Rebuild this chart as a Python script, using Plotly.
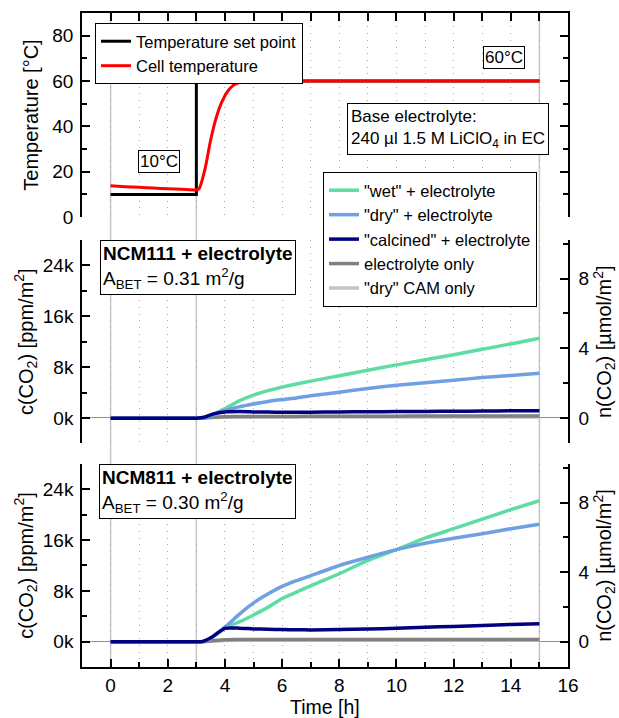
import plotly.graph_objects as go

# ---------------- data ----------------
# Temperature panel
t_set = [0, 3, 3, 15]
T_set = [10, 10, 60, 60]
t_cell = [0, 0.5, 1, 1.5, 2, 2.5, 3, 3.1, 3.3, 3.5, 3.7, 3.9, 4.1, 4.3, 4.5, 4.8, 5, 15]
T_cell = [13.8, 13.4, 13.1, 12.8, 12.5, 12.3, 12.0, 12.6, 21, 34, 44, 51, 55.5, 58.2, 59.3, 60, 60, 60]

# NCM111 panel, c(CO2) in ppm/m2
t111 = [0, 1, 2, 3, 3.3, 3.6, 4, 4.5, 5, 5.5, 6, 6.5, 7, 8, 9, 10, 11, 12, 13, 14, 15]
wet111 = [-50, -50, -40, -30, 0, 600, 1500, 2700, 3600, 4300, 4850, 5350, 5800, 6650, 7500, 8350, 9150, 9950, 10800, 11650, 12550]
dry111 = [-50, -50, -40, -30, 0, 550, 1200, 1750, 2200, 2600, 2900, 3150, 3500, 4050, 4650, 5150, 5550, 5950, 6350, 6700, 7050]
cal111 = [-50, -50, -40, -30, 150, 650, 950, 1000, 950, 920, 900, 900, 910, 950, 980, 1000, 1030, 1060, 1090, 1120, 1150]
ele111 = [-30, -30, -30, -20, 0, 120, 200, 220, 230, 240, 250, 250, 260, 270, 280, 290, 300, 300, 300, 300, 300]
cam111 = [-30, -30, -30, -20, 0, 80, 120, 130, 130, 140, 140, 150, 150, 150, 150, 150, 150, 150, 150, 150, 150]

# NCM811 panel, c(CO2) in ppm/m2
t811 = [0, 1, 2, 3, 3.2, 3.5, 4, 4.5, 5, 5.5, 6, 6.5, 7, 8, 9, 10, 11, 12, 13, 14, 15]
wet811 = [-30, -30, -30, -20, 0, 500, 2200, 3100, 4200, 5400, 6800, 7800, 8800, 10700, 12800, 14500, 16300, 17800, 19300, 20800, 22200]
dry811 = [-30, -30, -30, -20, 0, 500, 2300, 4300, 6100, 7500, 8700, 9600, 10400, 12000, 13300, 14500, 15500, 16300, 17000, 17800, 18500]
cal811 = [-30, -30, -30, -20, 0, 600, 2100, 2120, 2000, 1950, 1900, 1880, 1850, 1900, 2000, 2100, 2250, 2400, 2550, 2700, 2800]
ele811 = [-20, -20, -20, -10, 0, 100, 300, 320, 320, 320, 320, 320, 320, 320, 320, 320, 320, 320, 320, 320, 320]
cam811 = [-20, -20, -20, -10, 0, 60, 180, 200, 200, 200, 200, 200, 200, 200, 200, 200, 200, 200, 200, 200, 200]

series_names = ['"wet" + electrolyte', '"dry" + electrolyte', '"calcined" + electrolyte',
                'electrolyte only', '"dry" CAM only']
series_colors = ['#5EDCA3', '#6EA0E2', '#000080', '#808080', '#C4C4C4']

ppm_per_umol = 2740.0  # conversion between left and right axes

FONT = "Liberation Sans, Arial, sans-serif"

fig = go.Figure()

# temperature traces
fig.add_trace(go.Scatter(x=t_set, y=T_set, mode='lines', name='Temperature set point',
                         line=dict(color='black', width=3), xaxis='x3', yaxis='y3', legend='legend'))
fig.add_trace(go.Scatter(x=t_cell, y=T_cell, mode='lines', name='Cell temperature',
                         line=dict(color='#FF0000', width=3, shape='spline', smoothing=0.6),
                         xaxis='x3', yaxis='y3', legend='legend'))

d111 = [wet111, dry111, cal111, ele111, cam111]
order = [4, 3, 0, 1, 2]
for i in order:
    fig.add_trace(go.Scatter(x=t111, y=d111[i], mode='lines', name=series_names[i],
                             line=dict(color=series_colors[i], width=3.5, shape='spline', smoothing=0.5),
                             xaxis='x2', yaxis='y2', legend='legend2', legendrank=i + 1))
d811 = [wet811, dry811, cal811, ele811, cam811]
for i in order:
    fig.add_trace(go.Scatter(x=t811, y=d811[i], mode='lines', name=series_names[i],
                             line=dict(color=series_colors[i], width=3.5, shape='spline', smoothing=0.5),
                             xaxis='x', yaxis='y', showlegend=False))

# helper empty traces so the right axes render
fig.add_trace(go.Scatter(x=[None], y=[None], xaxis='x2', yaxis='y5', showlegend=False))
fig.add_trace(go.Scatter(x=[None], y=[None], xaxis='x', yaxis='y4', showlegend=False))

grid_col = '#A8A8A8'
grid_dash = '1px,5.7px'
tickfont = dict(family=FONT, size=19, color='black')
titlefont = dict(family=FONT, size=20, color='black')

common_x = dict(range=[-1, 16], linecolor='black', linewidth=1.5, tickcolor='black', automargin=False,
                gridcolor=grid_col, griddash=grid_dash, gridwidth=1, zeroline=False)

yl_common = dict(range=[-4000, 28000], dtick=8000, tick0=0, tickformat='~s', labelalias={'0': '0k'},
                 showline=True, linecolor='black', linewidth=1.5, ticks='inside', ticklen=8, tickwidth=1.5,
                 tickcolor='black', showgrid=False, zeroline=True, zerolinecolor='#909090', zerolinewidth=1,
                 tickfont=tickfont, ticklabelstandoff=3, automargin=False,
                 minor=dict(dtick=4000, tick0=0, ticks='inside', ticklen=5, tickwidth=1.5, tickcolor='black'),
                 title=dict(text='c(CO<sub>2</sub>) [ppm/m<sup>2</sup>]', font=titlefont, standoff=4))
yr_common = dict(side='right', range=[-4000 / ppm_per_umol, 28000 / ppm_per_umol], dtick=4, tick0=0,
                 showline=True, linecolor='black', linewidth=1.5, ticks='inside', ticklen=8, tickwidth=1.5,
                 tickcolor='black', showgrid=False, zeroline=False, tickfont=tickfont, ticklabelstandoff=5,
                 automargin=False,
                 minor=dict(dtick=2, tick0=0, ticks='inside', ticklen=5, tickwidth=1.5, tickcolor='black'),
                 title=dict(text='n(CO<sub>2</sub>) [µmol/m<sup>2</sup>]', font=titlefont, standoff=6))

fig.update_layout(
    width=619, height=718,
    margin=dict(l=82, r=51, t=13, b=51, autoexpand=False),
    paper_bgcolor='white', plot_bgcolor='white',
    font=dict(family=FONT, size=16, color='black'),
    xaxis=dict(common_x, domain=[0, 1], anchor='y', showline=True, ticks='inside', ticklen=8, tickwidth=1.5,
               dtick=2, tick0=0, showgrid=True, tickfont=tickfont, ticklabelstandoff=0,
               minor=dict(dtick=1, tick0=0, ticks='inside', ticklen=5, tickwidth=1.5, tickcolor='black',
                          showgrid=True, gridcolor=grid_col, griddash=grid_dash)),
    xaxis2=dict(common_x, domain=[0, 1], anchor='y2', showline=False, ticks='', showticklabels=False,
                dtick=1, tick0=0, showgrid=True),
    xaxis3=dict(common_x, domain=[0, 1], anchor='y3', side='top', showline=True, ticks='inside', ticklen=8,
                tickwidth=1.5, showticklabels=False, dtick=1, tick0=0, showgrid=True),
    yaxis3=dict(domain=[0.688, 1.0], anchor='x3', range=[0, 90], dtick=20, tick0=0, showline=True,
                linecolor='black', linewidth=1.5, mirror='ticks', ticks='inside', ticklen=8, tickwidth=1.5,
                tickcolor='black', showgrid=False, zeroline=False, tickfont=tickfont, ticklabelstandoff=3,
                automargin=False,
                minor=dict(dtick=10, tick0=0, ticks='inside', ticklen=5, tickwidth=1.5, tickcolor='black'),
                title=dict(text='Temperature [°C]', font=titlefont, standoff=8)),
    yaxis2=dict(yl_common, domain=[0.3419, 0.6529], anchor='x2'),
    yaxis5=dict(yr_common, overlaying='y2', anchor='x2'),
    yaxis=dict(yl_common, domain=[0, 0.3104], anchor='x'),
    yaxis4=dict(yr_common, overlaying='y', anchor='x'),
    legend=dict(x=0.0267, y=0.9847, xanchor='left', yanchor='top', bgcolor='white',
                bordercolor='black', borderwidth=1, font=dict(family=FONT, size=16.5),
                tracegroupgap=0, itemwidth=30),
    legend2=dict(x=0.4959, y=0.7569, xanchor='left', yanchor='top', bgcolor='white',
                 bordercolor='black', borderwidth=1, font=dict(family=FONT, size=16.5),
                 tracegroupgap=0, itemwidth=30, traceorder='normal'),
    showlegend=True,
)

# solid light-grey vertical markers at 0, 3 and 15 h
for xv in [0, 3, 15]:
    fig.add_shape(type='line', xref='x', yref='paper', x0=xv, x1=xv, y0=0, y1=1,
                  line=dict(color='#C8C8C8', width=1.5), layer='below')

# x-axis title placed below the tick labels
fig.add_annotation(text='Time [h]', x=0.5, y=-0.0615, xref='paper', yref='paper', xanchor='center',
                   yanchor='middle', showarrow=False, font=dict(family=FONT, size=19.5, color='black'))

box = dict(bordercolor='black', borderwidth=1, bgcolor='white', showarrow=False,
           xref='paper', yref='paper')
fig.add_annotation(text='10°C', x=0.1584, y=0.7737, xanchor='center', yanchor='middle',
                   font=dict(family=FONT, size=17), borderpad=1, **box)
fig.add_annotation(text='60°C', x=0.8693, y=0.9312, xanchor='center', yanchor='middle',
                   font=dict(family=FONT, size=17), borderpad=1, **box)
fig.add_annotation(text='Base electrolyte:<br>240 µl 1.5 M LiClO<sub>4</sub> in EC', x=0.5453, y=0.8624,
                   xanchor='left', yanchor='top', align='left', font=dict(family=FONT, size=17),
                   borderpad=3, **box)
fig.add_annotation(text='<b>NCM111 + electrolyte</b><br>A<sub>BET</sub> = 0.31 m<sup>2</sup>/g',
                   x=0.037, y=0.6529, xanchor='left', yanchor='top', align='left',
                   font=dict(family=FONT, size=19), borderpad=2, **box)
fig.add_annotation(text='<b>NCM811 + electrolyte</b><br>A<sub>BET</sub> = 0.30 m<sup>2</sup>/g',
                   x=0.035, y=0.3104, xanchor='left', yanchor='top', align='left',
                   font=dict(family=FONT, size=19), borderpad=2, **box)

fig.write_html("out.html")
